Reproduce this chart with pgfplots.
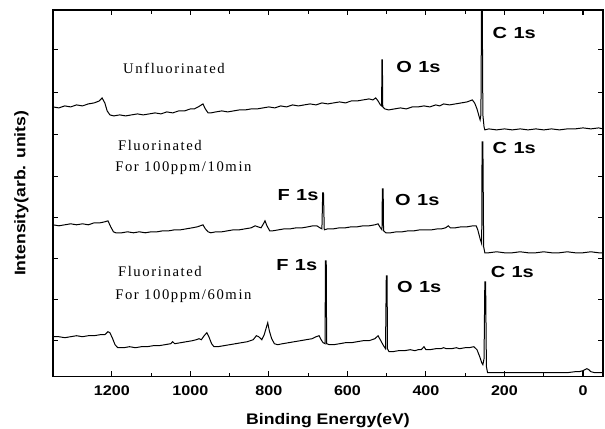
\documentclass[border=0pt]{standalone}
\usepackage{fontspec}
\setmainfont{Liberation Serif}
\setsansfont{Liberation Sans}
\newfontfamily\labfont[FakeStretch=1.15]{Liberation Sans}
\newfontfamily\peakfont[FakeStretch=1.25]{Liberation Sans}
\newfontfamily\notefont[LetterSpace=11]{Liberation Serif}
\usepackage{pgfplots}
\pgfplotsset{compat=1.18}

\begin{document}
\begin{tikzpicture}
\begin{axis}[
    name=ax,
    scale only axis,
    width=412.5pt, height=275pt,
    x dir=reverse,
    xmin=-51, xmax=1350,
    ymin=0, ymax=367,
    axis line style={line width=1.1pt},
    xtick={0,200,...,1200},
    minor x tick num=1,
    ytick={36,77,118,159,200,242,284,327},
    yticklabels={},
    tick align=inside,
    major tick length=4pt,
    minor tick length=3pt,
    tick style={line width=0.8pt, black},
    ticklabel style={font=\labfont\bfseries\fontsize{10.5}{12}\selectfont},
    xticklabel style={yshift=-3pt},
    /pgf/number format/assume math mode=true,
    /pgf/number format/1000 sep={},
    xlabel={Binding Energy(eV)},
    ylabel={Intensity(arb. units)},
    label style={font=\labfont\bfseries\fontsize{11.5}{13}\selectfont},
    xlabel style={yshift=-7pt},
    ylabel style={yshift=8pt},
    clip=true,
]
% Unfluorinated
\addplot[black, line width=0.75pt] coordinates {
(1350,270) (1335,269) (1320,271) (1305,270) (1290,272) (1275,271) (1260,273) (1245,274)
(1232,276) (1225,279) (1218,274) (1212,266) (1205,262) (1195,261) (1180,262) (1165,261)
(1150,262) (1135,263) (1120,262) (1105,263) (1090,264) (1075,263) (1060,265) (1045,264)
(1030,266) (1015,266) (1000,268) (990,268) (980,270) (972,272) (968,273) (962,268)
(955,264) (948,264) (935,265) (920,266) (905,265) (890,266) (875,267) (860,267)
(845,268) (830,268) (815,269) (800,270) (785,269) (770,271) (755,270) (740,272)
(725,271) (710,272) (695,273) (680,272) (665,274) (650,273) (635,274) (620,275)
(605,274) (590,276) (575,276) (560,277) (545,278) (535,277) (528,279) (522,276)
(516,272) (513,271) (512,317) (511,317) (510,270) (505,268) (495,267) (480,268)
(465,269) (450,268) (435,270) (420,270) (405,271) (390,270) (375,272) (365,271)
(355,273) (340,272) (325,273) (310,274) (295,275) (282,277) (276,274) (270,268)
(265,261) (262,257) (260,262) (258,400) (257,400) (255,262) (252,250) (250,247)
(240,248) (220,247) (200,248) (180,247) (160,248) (140,247) (120,248) (100,247)
(80,248) (60,247) (40,248) (20,248) (0,249) (-20,248) (-40,249) (-51,248)
};
% 100ppm/10min
\addplot[black, line width=0.75pt] coordinates {
(1350,152) (1335,151) (1320,152) (1305,153) (1290,152) (1275,153) (1260,152) (1245,154)
(1230,154) (1218,155) (1210,156) (1203,150) (1196,145) (1190,144) (1175,144) (1160,145)
(1145,144) (1130,145) (1115,144) (1100,145) (1085,145) (1070,146) (1055,146) (1040,147)
(1025,147) (1010,148) (995,149) (982,150) (975,151) (968,152) (962,148) (955,145)
(948,144) (935,145) (920,145) (905,146) (890,147) (875,147) (860,148) (845,149)
(835,151) (828,150) (820,149) (814,153) (810,156) (805,151) (798,146) (790,146)
(775,147) (760,148) (745,148) (730,149) (715,149) (700,150) (688,151) (678,151)
(670,149) (665,148) (663,184) (661,184) (659,147) (650,148) (635,148) (620,149)
(605,149) (590,150) (575,150) (560,151) (545,151) (530,152) (522,153) (516,149)
(512,147) (511,188) (509,188) (508,146) (502,144) (490,144) (475,145) (460,145)
(445,146) (430,146) (415,147) (400,147) (385,147) (370,148) (360,148) (350,149)
(343,151) (338,149) (325,149) (310,150) (295,150) (280,151) (272,151) (268,147)
(262,138) (258,133) (257,235) (255,235) (253,130) (250,124) (240,124) (220,125)
(200,124) (180,124) (160,125) (140,124) (120,124) (100,125) (80,124) (60,124)
(40,125) (20,124) (0,124) (-20,125) (-40,124) (-51,124)
};
% 100ppm/60min
\addplot[black, line width=0.75pt] coordinates {
(1350,40) (1335,40) (1320,39) (1305,40) (1290,41) (1275,40) (1260,41) (1245,41)
(1230,42) (1218,42) (1210,45) (1205,44) (1198,38) (1192,32) (1185,29) (1170,29)
(1155,30) (1140,29) (1125,30) (1110,30) (1095,31) (1080,31) (1065,32) (1050,33)
(1045,35) (1040,33) (1025,34) (1010,35) (995,36) (985,37) (978,38) (972,37)
(965,41) (958,44) (953,40) (946,33) (940,30) (930,30) (915,31) (900,32)
(885,33) (870,34) (855,35) (840,37) (832,41) (826,40) (818,37) (812,42)
(806,50) (803,54) (799,46) (793,38) (786,33) (778,32) (765,33) (750,34)
(735,35) (720,36) (705,37) (690,38) (680,40) (672,41) (667,37) (662,34)
(657,33) (656,116) (654,116) (653,33) (646,32) (635,32) (620,33) (605,34)
(590,34) (575,35) (560,36) (545,36) (530,38) (522,41) (515,36) (508,31)
(503,28) (501,101) (499,101) (498,28) (494,25) (485,25) (470,26) (455,26)
(440,27) (428,26) (420,27) (412,27) (405,30) (400,27) (390,27) (375,28)
(362,28) (355,29) (348,28) (335,28) (322,29) (315,28) (300,29) (290,29)
(278,30) (270,27) (263,20) (258,14) (255,12) (252,18) (250,95) (248,95)
(246,10) (243,4) (240,4) (220,4) (200,4) (180,4) (160,4) (140,4)
(120,4) (100,4) (80,4) (60,4) (40,4) (20,5) (10,5) (0,6)
(-10,8) (-15,7) (-20,5) (-30,4) (-51,4)
};
% annotations
\tikzset{note/.style={anchor=west, inner sep=0pt, font=\notefont\fontsize{11}{13}\selectfont},
         peak/.style={font=\peakfont\bfseries\fontsize{12}{14}\selectfont}}
\node[note] at (axis cs:1172,309) {Unfluorinated};
\node[note] at (axis cs:1185,231) {Fluorinated};
\node[note] at (axis cs:1192,209) {For\ 100ppm/10min};
\node[note] at (axis cs:1185,105) {Fluorinated};
\node[note] at (axis cs:1192,81) {For\ 100ppm/60min};
\node[peak] at (axis cs:419,310) {O\hspace{0.4em}1s};
\node[peak] at (axis cs:175,344) {C\hspace{0.4em}1s};
\node[peak] at (axis cs:726,182) {F\hspace{0.4em}1s};
\node[peak] at (axis cs:422,177) {O\hspace{0.4em}1s};
\node[peak] at (axis cs:175,229) {C\hspace{0.4em}1s};
\node[peak] at (axis cs:729,112) {F\hspace{0.4em}1s};
\node[peak] at (axis cs:417,90) {O\hspace{0.4em}1s};
\node[peak] at (axis cs:180,105) {C\hspace{0.4em}1s};
\end{axis}
\pgfresetboundingbox
\path[use as bounding box] ([shift={(-39.75pt,-39pt)}]ax.south west) rectangle ([shift={(1.5pt,7.5pt)}]ax.north east);
\end{tikzpicture}
\end{document}
